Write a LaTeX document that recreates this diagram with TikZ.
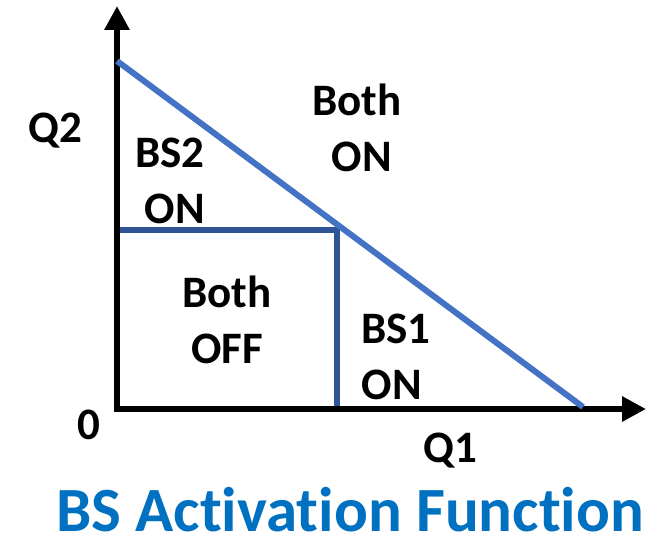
\documentclass[tikz,border=0pt]{standalone}
\usepackage{fontspec}
\setmainfont{Carlito}[Ligatures=CommonOff]
\usetikzlibrary{arrows.meta}
\definecolor{diagblue}{HTML}{4472C4}
\definecolor{boxblue}{HTML}{2F5597}
\definecolor{titleblue}{HTML}{0070C0}
\tikzset{
  lbl/.style={anchor=base, inner sep=0pt, font=\fontsize{45}{56}\selectfont\bfseries},
  ttl/.style={anchor=base, inner sep=0pt, text=titleblue, font=\fontsize{63}{74}\selectfont\bfseries},
  axis/.style={line width=6pt, -{Triangle[width=24pt,length=24pt]}},
  boxline/.style={line width=6pt, boxblue},
  diagline/.style={line width=6pt, diagblue}
}
\begin{document}
\begin{tikzpicture}[x=1pt,y=-1pt]
\useasboundingbox (0,0) rectangle (658,537);
% coordinates
\coordinate (O) at (117,409);
\coordinate (ytip) at (117,6);
\coordinate (xtip) at (646,409);
\coordinate (ya) at (117,230);
\coordinate (c) at (337,230);
\coordinate (xa) at (337,409);
\coordinate (d1) at (117,61);
\coordinate (d2) at (583,407);
% rectangle
\draw[boxline] (ya) -- (c) -- (xa);
% axes
\draw[axis] ([yshift=3pt]O) -- (ytip);
\draw[axis] ([xshift=-3pt]O) -- (xtip);
% diagonal
\draw[diagline] (d1) -- (d2);
% labels
\node[lbl] (q2) at (55,143) {Q2};
\node[lbl] (bs2a) at (170,168) {BS2};
\node[lbl] (bs2b) at (175,224) {ON};
\node[lbl] (bothona) at (357,116) {Both};
\node[lbl] (bothonb) at (362,172) {ON};
\node[lbl] (bothoffa) at (227,307) {Both};
\node[lbl] (bothoffb) at (227,363) {OFF};
\node[lbl] (bs1a) at (396,343) {BS1};
\node[lbl] (bs1b) at (392,399) {ON};
\node[lbl] (zero) at (89,439) {0};
\node[lbl] (q1) at (450,462) {Q1};
\node[ttl] (title) at (350,531) {BS Activation Function};
\end{tikzpicture}
\end{document}
